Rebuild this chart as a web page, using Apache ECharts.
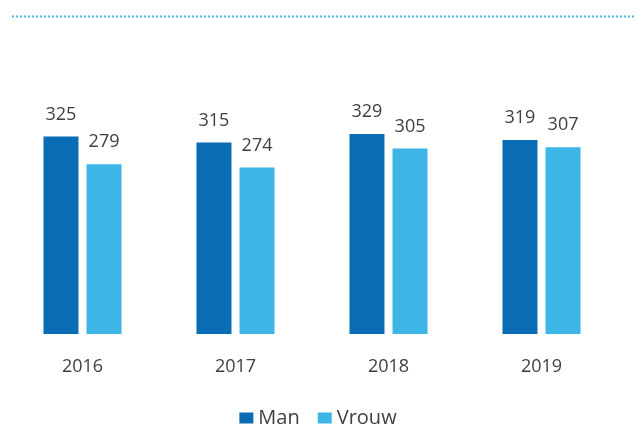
<!DOCTYPE html>
<html>
<head>
<meta charset="utf-8">
<script src="https://cdn.jsdelivr.net/npm/echarts@6/dist/echarts.min.js"></script>
<style>
html,body{margin:0;padding:0;background:#fff;}
#chart{width:636px;height:439px;}
</style>
</head>
<body>
<div id="chart"></div>
<script>
const categories = ['2016', '2017', '2018', '2019'];
const manValues = [325, 315, 329, 319];
const vrouwValues = [279, 274, 305, 307];
const seriesNames = ['Man', 'Vrouw'];

const FONT = '"Open Sans", "Noto Sans", sans-serif';
const chart = echarts.init(document.getElementById('chart'), null, {renderer: 'canvas'});
const labelStyle = {
  show: true, position: 'top', distance: 13,
  color: '#404040', fontSize: 18, fontFamily: FONT
};
chart.setOption({
  animation: false,
  backgroundColor: '#ffffff',
  grid: {left: 6, right: 18, top: 30, bottom: 105, containLabel: false},
  legend: {
    data: seriesNames,
    bottom: 6,
    left: 'center',
    icon: 'rect',
    itemWidth: 14,
    itemHeight: 11,
    itemGap: 18,
    textStyle: {color: '#404040', fontSize: 20, fontFamily: FONT}
  },
  xAxis: {
    type: 'category',
    data: categories,
    axisLine: {show: false},
    axisTick: {show: false},
    axisLabel: {color: '#404040', fontSize: 18, fontFamily: FONT, margin: 24}
  },
  yAxis: {
    type: 'value',
    min: 0, max: 500,
    show: false,
    splitLine: {show: false}
  },
  graphic: [{
    type: 'line',
    shape: {x1: 12, y1: 16.5, x2: 636, y2: 16.5},
    style: {stroke: '#4ab8e8', lineWidth: 2, lineDash: [2, 2]},
    silent: true
  }],
  series: [
    {
      name: seriesNames[0], type: 'bar', data: manValues,
      barWidth: 35, barGap: '23%',
      itemStyle: {color: '#0a6db4'},
      label: labelStyle
    },
    {
      name: seriesNames[1], type: 'bar', data: vrouwValues,
      barWidth: 35,
      itemStyle: {color: '#3db5e6'},
      label: labelStyle
    }
  ]
});
</script>
</body>
</html>
